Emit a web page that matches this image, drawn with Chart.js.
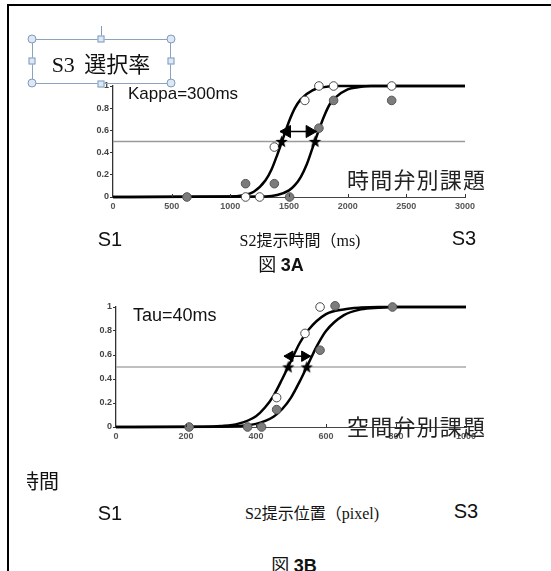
<!DOCTYPE html>
<html lang="ja">
<head>
<meta charset="utf-8">
<script src="https://cdn.jsdelivr.net/npm/chart.js@4.4.1/dist/chart.umd.min.js"></script>
<style>
  html, body { margin: 0; padding: 0; background: #fff; }
  body { width: 551px; height: 571px; position: relative; overflow: hidden; font-family: "Liberation Sans", Arial, sans-serif; }
  canvas { position: absolute; left: 0; }
  .frame-top { position: absolute; left: 7px; top: 4px; width: 544px; height: 2px; background: #000; }
  .frame-left { position: absolute; left: 7px; top: 4px; width: 2px; height: 567px; background: #000; }
  .txt { position: absolute; white-space: nowrap; line-height: 1; color: #111; }
  .c { transform: translate(-50%, -50%); }
  .l { transform: translateY(-50%); }
  .serif { font-family: "Liberation Serif", "Noto Sans CJK JP", serif; }
  .gothic { font-family: "Noto Sans CJK JP", sans-serif; }
  .box { position: absolute; left: 32px; top: 39px; width: 139px; height: 45px; box-sizing: border-box; border: 1px solid #8aa3c0; }
  .handle { position: absolute; width: 7px; height: 7px; box-sizing: border-box; border: 1px solid #7f9bbd; background: #dde8f4; transform: translate(-50%, -50%); }
  .round { width: 9px; height: 9px; border-radius: 50%; }
  .rot { position: absolute; left: 101px; top: 26px; width: 1px; height: 11px; background: #7f9bbd; }
  .clipbox { position: absolute; left: 27px; top: 468px; width: 40px; height: 28px; overflow: hidden; }
</style>
</head>
<body>
<div class="frame-top"></div>
<div class="frame-left"></div>

<canvas id="chartA" width="551" height="180" style="top:60px"></canvas>
<canvas id="chartB" width="551" height="190" style="top:280px"></canvas>

<div class="txt l" style="left:128px; top:93px; font-size:17px;">Kappa=300ms</div>
<div class="txt l gothic" style="left:347px; top:178px; font-size:22px; letter-spacing:1.2px; color:#222;">時間弁別課題</div>
<div class="txt c" style="left:110px; top:239px; font-size:20px;">S1</div>
<div class="txt c serif" style="left:300px; top:241px; font-size:16px;">S2提示時間（ms)</div>
<div class="txt c" style="left:464px; top:238px; font-size:20px;">S3</div>
<div class="txt c" style="left:281px; top:265px; font-size:18px;"><span class="serif">図 </span><b>3A</b></div>

<div class="txt l" style="left:133px; top:315px; font-size:18px;">Tau=40ms</div>
<div class="txt l gothic" style="left:347px; top:425px; font-size:22px; letter-spacing:1.2px; color:#222;">空間弁別課題</div>
<div class="clipbox"><div class="txt l gothic" style="left:-8px; top:13px; font-size:20px;">時間</div></div>
<div class="txt c" style="left:110px; top:513px; font-size:20px;">S1</div>
<div class="txt c serif" style="left:312px; top:514px; font-size:16px;">S2提示位置（pixel)</div>
<div class="txt c" style="left:466px; top:511px; font-size:20px;">S3</div>
<div class="txt c" style="left:294px; top:566px; font-size:18px;"><span class="serif">図 </span><b>3B</b></div>

<div class="rot"></div>
<div class="box"></div>
<div class="txt c serif" style="left:101px; top:65px; font-size:22px; word-spacing:4px;">S3 選択率</div>
<div class="handle round" style="left:32px; top:39px;"></div>
<div class="handle" style="left:101px; top:39px;"></div>
<div class="handle round" style="left:171px; top:39px;"></div>
<div class="handle" style="left:32px; top:61px;"></div>
<div class="handle" style="left:171px; top:61px;"></div>
<div class="handle round" style="left:32px; top:83px;"></div>
<div class="handle" style="left:101px; top:84px;"></div>
<div class="handle round" style="left:171px; top:83px;"></div>

<script>
// shared
const yTickValues = [0, 0.2, 0.4, 0.6, 0.8, 1];
const halfLevel = [0.5, 0.5];

// 図3A: time discrimination (ms)
const kappaXTicks = [0, 500, 1000, 1500, 2000, 2500, 3000];
const kappaRange = [0, 3000];
const kappaLeftX = [0, 1000, 1100, 1200, 1300, 1350, 1400, 1450, 1500, 1550, 1600, 1700, 1800, 1900, 3000];
const kappaLeftY = [0, 0.004, 0.014, 0.047, 0.15, 0.245, 0.38, 0.53, 0.68, 0.8, 0.88, 0.96, 0.99, 1, 1];
const kappaRightX = [0, 1300, 1400, 1500, 1550, 1600, 1650, 1700, 1750, 1800, 1850, 1900, 2000, 2100, 2200, 3000];
const kappaRightY = [0, 0.005, 0.018, 0.06, 0.107, 0.18, 0.29, 0.44, 0.59, 0.73, 0.84, 0.9, 0.97, 0.99, 1, 1];
const kappaOpenX = [1130, 1250, 1375, 1635, 1755, 1880, 2375];
const kappaOpenY = [0, 0, 0.45, 0.87, 1, 1, 1];
const kappaFilledX = [630, 1130, 1375, 1505, 1755, 1880, 2375];
const kappaFilledY = [0, 0.12, 0.12, 0, 0.62, 0.87, 0.87];
const kappaStarX = [1437, 1722];
const kappaArrowTipX = [1423, 1736];
const kappaArrowHeadX = [1483, 1676];
const kappaArrowY = [0.59, 0.59];

// 図3B: position discrimination (pixel)
const tauXTicks = [0, 200, 400, 600, 800, 1000];
const tauRange = [0, 1000];
const tauLeftX = [0, 250, 300, 350, 400, 425, 450, 475, 500, 525, 550, 600, 650, 700, 750, 1000];
const tauLeftY = [0, 0.002, 0.008, 0.028, 0.09, 0.16, 0.26, 0.4, 0.55, 0.7, 0.81, 0.94, 0.98, 0.995, 1, 1];
const tauRightX = [0, 300, 350, 400, 450, 475, 500, 525, 550, 575, 600, 650, 700, 750, 800, 1000];
const tauRightY = [0, 0.002, 0.008, 0.026, 0.085, 0.15, 0.245, 0.38, 0.53, 0.68, 0.8, 0.93, 0.98, 0.994, 1, 1];
const tauOpenX = [459, 540, 583];
const tauOpenY = [0.245, 0.78, 1];
const tauFilledX = [209, 376, 416, 459, 583, 626, 790];
const tauFilledY = [0, 0, 0, 0.145, 0.64, 1.01, 1];
const tauStarX = [492, 545];
const tauArrowTipX = [480, 556];
const tauArrowHeadX = [497, 539];
const tauArrowY = [0.59, 0.59];

const zip = (xs, ys) => xs.map((x, i) => ({ x, y: ys[i] }));

const makeStar = (r) => {
  const c = document.createElement("canvas");
  const size = Math.ceil(r * 2) + 2;
  c.width = size;
  c.height = size;
  const ctx = c.getContext("2d");
  ctx.translate(size / 2, size / 2 + 0.5);
  ctx.beginPath();
  for (let i = 0; i < 10; i++) {
    const rad = i % 2 === 0 ? r : r * 0.42;
    const a = -Math.PI / 2 + (i * Math.PI) / 5;
    ctx.lineTo(Math.cos(a) * rad, Math.sin(a) * rad);
  }
  ctx.closePath();
  ctx.fillStyle = "#000";
  ctx.fill();
  return c;
};
const starImage = makeStar(6.5);

// x ticks point inward (up from the axis)
const innerTicks = {
  id: "innerTicks",
  afterDraw(chart) {
    const { ctx, chartArea } = chart;
    const x = chart.scales.x;
    ctx.save();
    ctx.strokeStyle = "#333";
    ctx.lineWidth = 1;
    x.ticks.forEach((t) => {
      if (t.value === 0) return;
      const px = Math.round(x.getPixelForValue(t.value)) + 0.5;
      ctx.beginPath();
      ctx.moveTo(px, chartArea.bottom);
      ctx.lineTo(px, chartArea.bottom - 3);
      ctx.stroke();
    });
    ctx.restore();
  },
};

const tickFont = { family: "'Liberation Sans', Arial, sans-serif", size: 9, weight: "bold" };

const buildPanel = (canvasId, p) =>
  new Chart(document.getElementById(canvasId), {
    type: "scatter",
    data: {
      datasets: [
        {
          data: zip(p.range, halfLevel),
          showLine: true,
          borderColor: p.halfColor,
          borderWidth: 1.4,
          pointRadius: 0,
          order: 9,
        },
        {
          data: zip(p.leftX, p.leftY),
          showLine: true,
          borderColor: "#000",
          borderWidth: 2.5,
          pointRadius: 0,
          cubicInterpolationMode: "monotone",
          order: 6,
        },
        {
          data: zip(p.rightX, p.rightY),
          showLine: true,
          borderColor: "#000",
          borderWidth: 2.5,
          pointRadius: 0,
          cubicInterpolationMode: "monotone",
          order: 6,
        },
        {
          data: zip(p.openX, p.openY),
          pointRadius: 4.3,
          backgroundColor: "#fff",
          borderColor: "#4a4a4a",
          borderWidth: 1,
          order: 5,
        },
        {
          data: zip(p.filledX, p.filledY),
          pointRadius: 4.3,
          backgroundColor: "#7c7c7c",
          borderColor: "#555",
          borderWidth: 1,
          order: 4,
        },
        {
          data: zip(p.starX, halfLevel),
          pointStyle: starImage,
          pointRadius: 6,
          order: 3,
        },
        {
          data: zip(p.arrowTipX, p.arrowY),
          showLine: true,
          borderColor: "#000",
          borderWidth: 1.5,
          pointRadius: 0,
          order: 2,
        },
        {
          data: zip(p.arrowHeadX, p.arrowY),
          pointStyle: "triangle",
          pointRadius: p.headSize,
          pointRotation: [-90, 90],
          backgroundColor: "#000",
          borderColor: "#000",
          borderWidth: 1,
          order: 1,
        },
      ],
    },
    options: {
      responsive: false,
      animation: false,
      events: [],
      clip: false,
      layout: { padding: { top: p.padTop, right: p.padRight, left: 0, bottom: 0 } },
      plugins: { legend: { display: false }, tooltip: { enabled: false } },
      scales: {
        x: {
          type: "linear",
          min: p.range[0],
          max: p.range[1],
          afterFit: (s) => { s.height = p.xAxisHeight; },
          afterBuildTicks: (s) => { s.ticks = p.xTicks.map((v) => ({ value: v })); },
          border: { color: "#444", width: 1 },
          grid: { display: false, drawTicks: false },
          ticks: { padding: 4, color: "#555", font: tickFont, maxRotation: 0, callback: (v) => String(v) },
        },
        y: {
          type: "linear",
          min: 0,
          max: 1,
          afterFit: (s) => { s.width = p.yAxisWidth; },
          afterBuildTicks: (s) => { s.ticks = yTickValues.map((v) => ({ value: v })); },
          border: { color: "#333", width: 1.3 },
          grid: { drawOnChartArea: false, drawTicks: true, tickLength: 3, tickColor: "#333" },
          ticks: { padding: 1, color: "#444", font: tickFont, callback: (v) => String(v) },
        },
      },
    },
    plugins: [innerTicks],
  });

buildPanel("chartA", {
  range: kappaRange, xTicks: kappaXTicks,
  leftX: kappaLeftX, leftY: kappaLeftY, rightX: kappaRightX, rightY: kappaRightY,
  openX: kappaOpenX, openY: kappaOpenY, filledX: kappaFilledX, filledY: kappaFilledY,
  starX: kappaStarX, arrowTipX: kappaArrowTipX, arrowHeadX: kappaArrowHeadX, arrowY: kappaArrowY,
  headSize: 7, halfColor: "#9a9a9a",
  padTop: 26, padRight: 86, yAxisWidth: 113, xAxisHeight: 43,
});

buildPanel("chartB", {
  range: tauRange, xTicks: tauXTicks,
  leftX: tauLeftX, leftY: tauLeftY, rightX: tauRightX, rightY: tauRightY,
  openX: tauOpenX, openY: tauOpenY, filledX: tauFilledX, filledY: tauFilledY,
  starX: tauStarX, arrowTipX: tauArrowTipX, arrowHeadX: tauArrowHeadX, arrowY: tauArrowY,
  headSize: 6, halfColor: "#aaaaaa",
  padTop: 27, padRight: 85, yAxisWidth: 116, xAxisHeight: 43,
});
</script>
</body>
</html>
